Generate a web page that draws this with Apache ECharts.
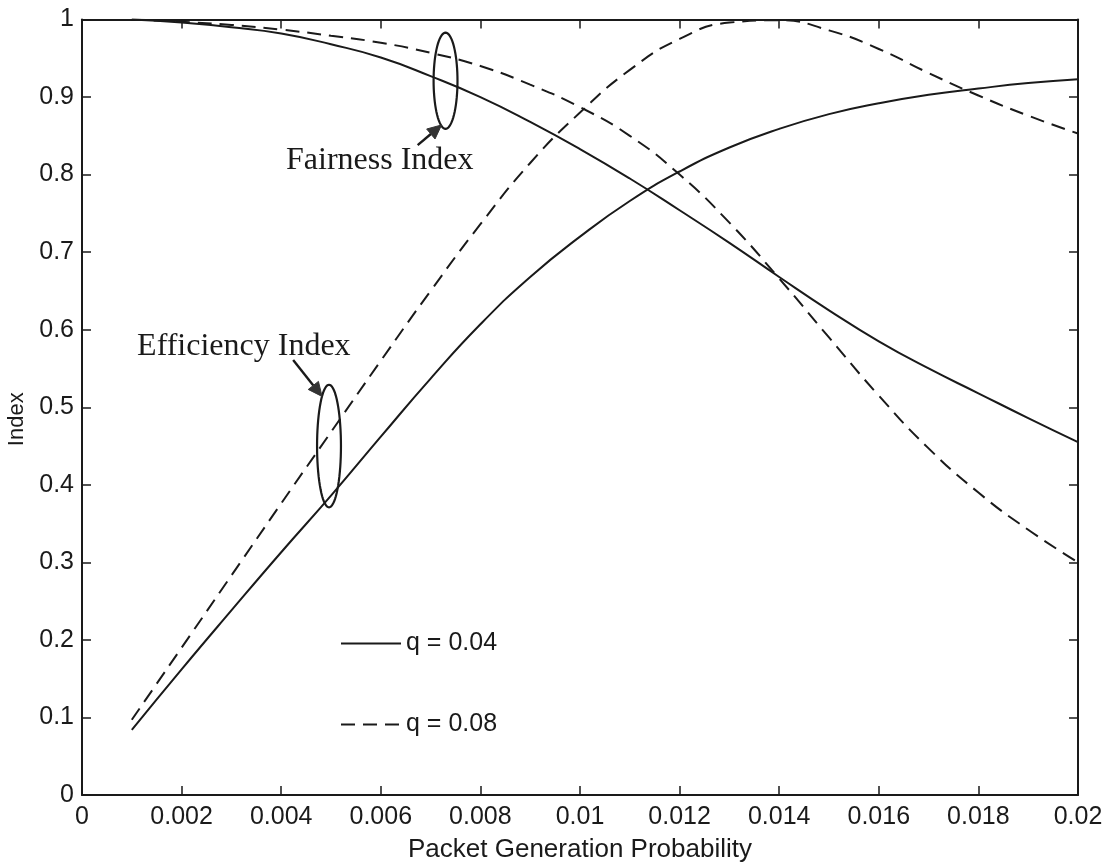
<!DOCTYPE html>
<html>
<head>
<meta charset="utf-8">
<title>Index vs Packet Generation Probability</title>
<script src="https://cdn.jsdelivr.net/npm/echarts@6/dist/echarts.min.js"></script>
<style>
  html, body { margin: 0; padding: 0; background: #fff; }
  #chart { width: 1117px; height: 868px; }
</style>
</head>
<body>
<div id="chart"></div>
<script>
// Packet generation probability (x)
const probability = [0.001, 0.002, 0.003, 0.004, 0.005, 0.006, 0.007, 0.008, 0.009, 0.010,
                     0.011, 0.012, 0.013, 0.014, 0.015, 0.016, 0.017, 0.018, 0.019, 0.020];

// Efficiency index
const efficiencyQ04 = [0.084, 0.162, 0.238, 0.313, 0.386, 0.462, 0.537, 0.607, 0.668, 0.720,
                       0.766, 0.804, 0.835, 0.859, 0.878, 0.892, 0.903, 0.911, 0.918, 0.923];
const efficiencyQ08 = [0.097, 0.190, 0.283, 0.376, 0.468, 0.560, 0.650, 0.736, 0.815, 0.880,
                       0.935, 0.975, 0.996, 0.999, 0.986, 0.962, 0.931, 0.902, 0.876, 0.853];

// Fairness index
const fairnessQ04 = [1.000, 0.996, 0.990, 0.982, 0.968, 0.951, 0.927, 0.900, 0.868, 0.833,
                     0.795, 0.754, 0.712, 0.668, 0.625, 0.585, 0.550, 0.518, 0.486, 0.455];
const fairnessQ08 = [1.000, 0.997, 0.993, 0.987, 0.979, 0.970, 0.957, 0.940, 0.916, 0.887,
                     0.850, 0.800, 0.738, 0.666, 0.590, 0.515, 0.447, 0.390, 0.342, 0.300];

const legendNames = ['q = 0.04', 'q = 0.08'];

// Callout annotations (data coordinates): ellipse [cx, cy, rx, ry], arrow tail/head, label anchor
const calloutLabels  = ['Fairness Index', 'Efficiency Index'];
const calloutEllipse = [[0.00730, 0.921, 0.00024, 0.062], [0.00496, 0.450, 0.00024, 0.079]];
const calloutArrow   = [[0.00674, 0.838, 0.00722, 0.864], [0.00424, 0.561, 0.00482, 0.514]];
const calloutText    = [[0.00598, 0.818], [0.00325, 0.578]];

const ink = '#1a1a1a';
const sans = '"Liberation Sans", Arial, Helvetica, sans-serif';
const serif = '"Liberation Serif", "Times New Roman", serif';

function pairs(ys) { return probability.map((x, i) => [x, ys[i]]); }
function fmt(v) { return String(parseFloat(v.toFixed(4))); }

function lineSeries(name, ys, dashed) {
  return {
    type: 'line', name: name, data: pairs(ys),
    xAxisIndex: 0, yAxisIndex: 0,
    smooth: 0.5, symbol: 'none', silent: true,
    lineStyle: { color: ink, width: 2, type: dashed ? [14, 8] : 'solid' },
    itemStyle: { color: ink },
    z: 3
  };
}

const chart = echarts.init(document.getElementById('chart'), null, { renderer: 'canvas' });

const baseX = { type: 'value', min: 0, max: 0.02, interval: 0.002 };
const baseY = { type: 'value', min: 0, max: 1, interval: 0.1 };
const axisLineStyle = { show: true, onZero: false, lineStyle: { color: ink, width: 2 } };
const tickStyle = { show: true, inside: true, length: 9, lineStyle: { color: ink, width: 1.5 } };

chart.setOption({
  backgroundColor: '#fff',
  animation: false,
  grid: { left: 82, right: 39, top: 19.5, bottom: 73, containLabel: false, outerBoundsMode: 'none' },
  legend: {
    data: legendNames,
    orient: 'vertical',
    left: 335, top: 626,
    itemWidth: 60, itemHeight: 20, itemGap: 56,
    itemStyle: { color: 'transparent', borderColor: 'transparent', borderWidth: 0, opacity: 0 },
    textStyle: { fontFamily: sans, fontSize: 25, color: ink },
    selectedMode: false
  },
  xAxis: [
    Object.assign({}, baseX, {
      position: 'bottom',
      name: 'Packet Generation Probability', nameLocation: 'middle', nameGap: 42,
      nameTextStyle: { fontFamily: sans, fontSize: 26, color: ink },
      axisLine: axisLineStyle, axisTick: tickStyle,
      axisLabel: { fontFamily: sans, fontSize: 25, color: ink, margin: 10, formatter: fmt },
      splitLine: { show: false }
    }),
    Object.assign({}, baseX, {
      position: 'top',
      axisLine: axisLineStyle, axisTick: tickStyle,
      axisLabel: { show: false }, splitLine: { show: false }
    })
  ],
  yAxis: [
    Object.assign({}, baseY, {
      position: 'left',
      name: 'Index', nameLocation: 'middle', nameGap: 50,
      nameTextStyle: { fontFamily: sans, fontSize: 22, color: ink, padding: [0, 24, 0, 0] },
      axisLine: axisLineStyle, axisTick: tickStyle,
      axisLabel: { fontFamily: sans, fontSize: 25, color: ink, margin: 8, formatter: fmt },
      splitLine: { show: false }
    }),
    Object.assign({}, baseY, {
      position: 'right',
      axisLine: axisLineStyle, axisTick: tickStyle,
      axisLabel: { show: false }, splitLine: { show: false }
    })
  ],
  series: [
    lineSeries(legendNames[0], efficiencyQ04, false),
    lineSeries(legendNames[1], efficiencyQ08, true),
    lineSeries(legendNames[0], fairnessQ04, false),
    lineSeries(legendNames[1], fairnessQ08, true),
    {
      // ellipses, arrows and labels marking each family of curves
      type: 'custom',
      xAxisIndex: 0, yAxisIndex: 0,
      silent: true, z: 5,
      data: calloutLabels.map((_, i) => [i]),
      renderItem: function (params, api) {
        const i = api.value(0);
        const e = calloutEllipse[i];
        const c = api.coord([e[0], e[1]]);
        const r = api.size([e[2], e[3]]);
        const pts = [];
        for (let k = 0; k <= 72; k++) {
          const t = (k / 72) * Math.PI * 2;
          pts.push([c[0] + r[0] * Math.cos(t), c[1] + r[1] * Math.sin(t)]);
        }
        const a = calloutArrow[i];
        const p0 = api.coord([a[0], a[1]]);
        const p1 = api.coord([a[2], a[3]]);
        const ang = Math.atan2(p1[1] - p0[1], p1[0] - p0[0]);
        const hl = 14, hw = 6.5;
        const base = [p1[0] - hl * Math.cos(ang), p1[1] - hl * Math.sin(ang)];
        const head = [
          p1,
          [base[0] + hw * Math.sin(ang), base[1] - hw * Math.cos(ang)],
          [base[0] - hw * Math.sin(ang), base[1] + hw * Math.cos(ang)]
        ];
        const tp = api.coord(calloutText[i]);
        return {
          type: 'group',
          children: [
            { type: 'polyline', shape: { points: pts }, style: { stroke: ink, lineWidth: 2.2, fill: null } },
            { type: 'line', shape: { x1: p0[0], y1: p0[1], x2: base[0], y2: base[1] }, style: { stroke: ink, lineWidth: 2.4 } },
            { type: 'polygon', shape: { points: head }, style: { fill: '#333', stroke: '#333', lineWidth: 1 } },
            { type: 'text', x: tp[0], y: tp[1],
              style: { text: calloutLabels[i], font: '32px ' + serif, fill: ink, align: 'center', verticalAlign: 'middle' } }
          ]
        };
      }
    }
  ]
});
</script>
</body>
</html>
